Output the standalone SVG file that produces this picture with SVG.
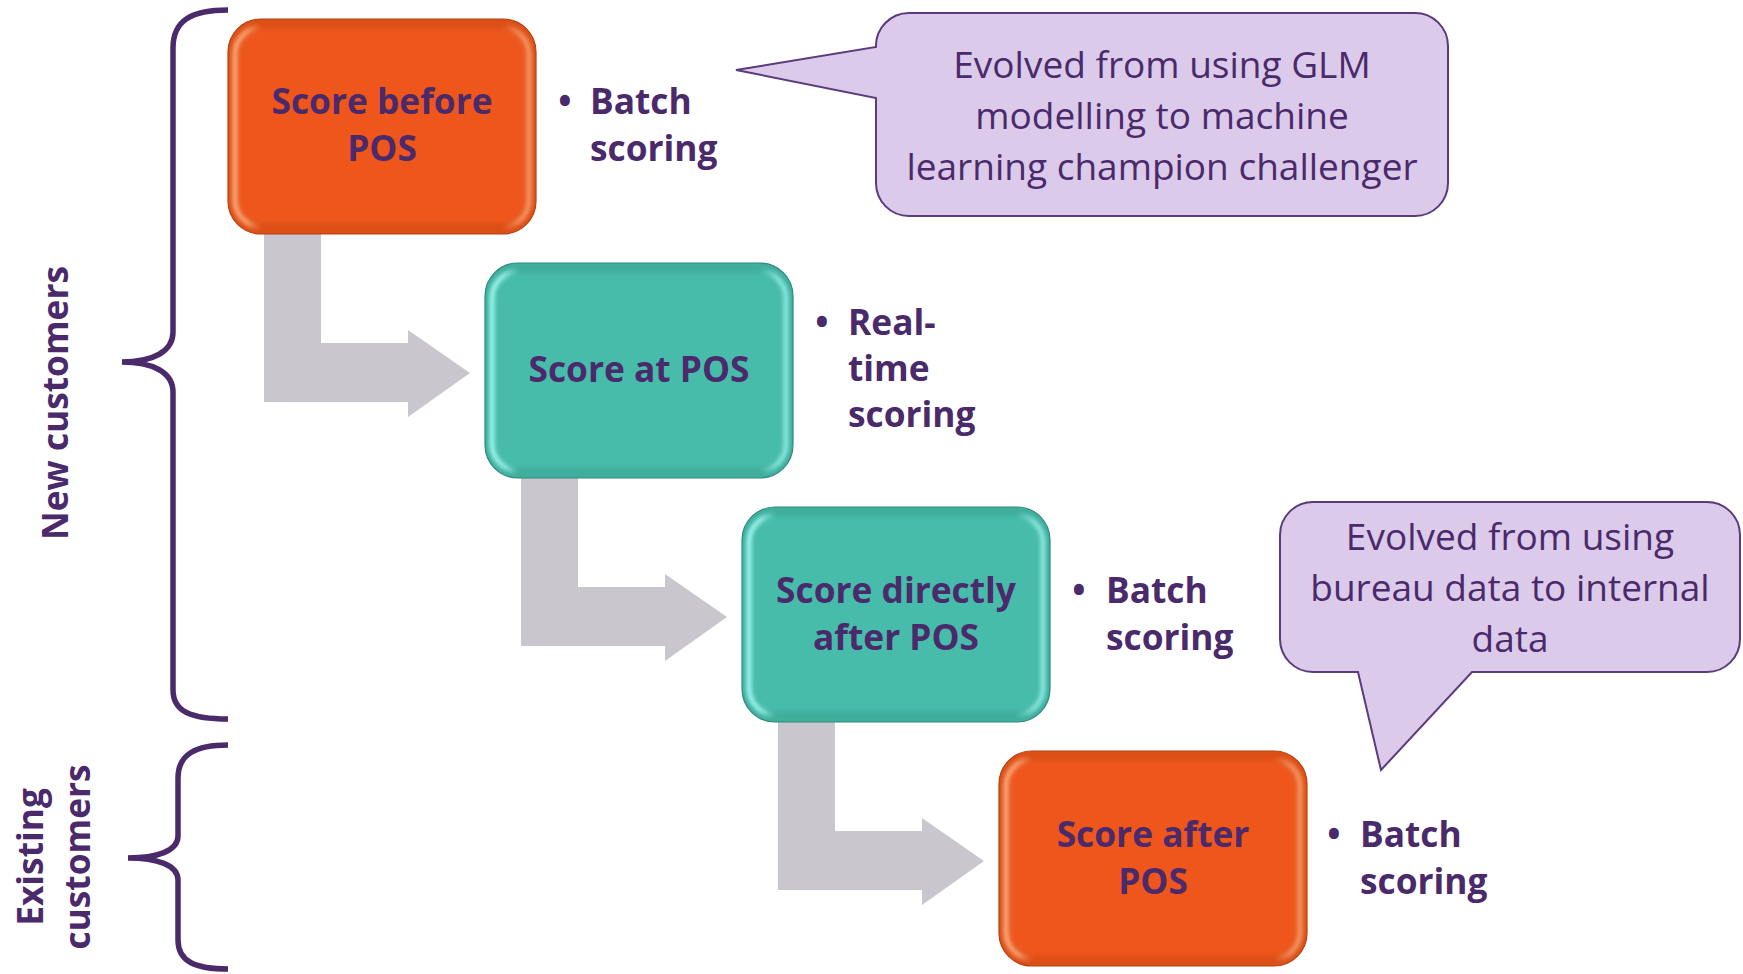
<svg xmlns="http://www.w3.org/2000/svg" width="1743" height="974" viewBox="0 0 1743 974">
  <style>
    .lbl { font-family: "Open Sans", "Liberation Sans", sans-serif; font-weight: 700; font-size: 35.3px; fill: #4A2A6A; }
    .mid { text-anchor: middle; }
    .note { font-family: "Open Sans", "Liberation Sans", sans-serif; font-weight: 400; font-size: 37px; fill: #4A2A6A; text-anchor: middle; }
    .brace { fill: none; stroke: #4A2A6A; stroke-width: 5.5; stroke-linecap: butt; }
    .arrow { fill: #C9C7CD; }
    .callout { fill: #DCCAEA; stroke: #5A3B7C; stroke-width: 2; }
    .edge-o { fill: #DC4F16; stroke: #B5410F; stroke-width: 1.2; }
    .ring-o { fill: none; stroke: url(#hl-o); stroke-width: 5; }
    .face-o { fill: #EE561C; }
    .edge-t { fill: #3FAE9D; stroke: #2E8A7D; stroke-width: 1.2; }
    .ring-t { fill: none; stroke: url(#hl-t); stroke-width: 5; }
    .face-t { fill: #47BCAB; }
  </style>
  <defs>
    <filter id="soft" x="-5%" y="-5%" width="110%" height="110%">
      <feGaussianBlur stdDeviation="2"/>
    </filter>
    <filter id="soft2" x="-5%" y="-5%" width="110%" height="110%">
      <feGaussianBlur stdDeviation="2.2"/>
    </filter>
    <!-- side highlights of the bevel: strong left, softer right -->
    <linearGradient id="hl-o" x1="0" y1="0" x2="1" y2="0">
      <stop offset="0" stop-color="#FFB083" stop-opacity="1"/>
      <stop offset="0.04" stop-color="#FFB083" stop-opacity="0.9"/>
      <stop offset="0.09" stop-color="#FFB083" stop-opacity="0"/>
      <stop offset="0.91" stop-color="#FFB083" stop-opacity="0"/>
      <stop offset="0.97" stop-color="#FFB083" stop-opacity="0.75"/>
      <stop offset="1" stop-color="#FFB083" stop-opacity="0.8"/>
    </linearGradient>
    <linearGradient id="hl-t" x1="0" y1="0" x2="1" y2="0">
      <stop offset="0" stop-color="#A6FFF7" stop-opacity="1"/>
      <stop offset="0.04" stop-color="#A6FFF7" stop-opacity="0.9"/>
      <stop offset="0.09" stop-color="#A6FFF7" stop-opacity="0"/>
      <stop offset="0.91" stop-color="#A6FFF7" stop-opacity="0"/>
      <stop offset="0.97" stop-color="#A6FFF7" stop-opacity="0.75"/>
      <stop offset="1" stop-color="#A6FFF7" stop-opacity="0.8"/>
    </linearGradient>
    <!-- beveled rounded box, 308 x 215 -->
    <g id="box-o">
      <rect class="edge-o" x="0" y="0" width="308" height="215" rx="33"/>
      <rect class="face-o" x="10" y="10" width="288" height="194" rx="24" filter="url(#soft2)"/>
      <rect class="ring-o" x="7" y="8" width="294" height="200" rx="27" filter="url(#soft)"/>
    </g>
    <g id="box-t">
      <rect class="edge-t" x="0" y="0" width="308" height="215" rx="33"/>
      <rect class="face-t" x="10" y="10" width="288" height="194" rx="24" filter="url(#soft2)"/>
      <rect class="ring-t" x="7" y="8" width="294" height="200" rx="27" filter="url(#soft)"/>
    </g>
    <path id="bent-arrow" d="M264,225 H321 V343 H408 V330 L470,373 L408,417 V402 H264 Z"/>
  </defs>

  <!-- group braces and their labels -->
  <g id="group-new">
    <path class="brace" d="M228,10 C192,10 173,20 173,48 L173,332 C173,352 152,362 122,362 C152,362 173,372 173,392 L173,690 C173,712 192,719 228,719"/>
    <text class="lbl mid" transform="translate(68,403) rotate(-90)">New customers</text>
  </g>
  <g id="group-existing">
    <path class="brace" d="M228,745 C196,745 178,754 178,778 L178,836 C178,851 157,858 128,858 C157,858 178,865 178,880 L178,940 C178,962 196,969 228,969"/>
    <text class="lbl mid" transform="translate(43,857) rotate(-90)">Existing</text>
    <text class="lbl mid" transform="translate(90,857) rotate(-90)">customers</text>
  </g>

  <!-- connectors -->
  <g id="connectors">
    <use href="#bent-arrow" class="arrow"/>
    <use href="#bent-arrow" class="arrow" transform="translate(257,244)"/>
    <use href="#bent-arrow" class="arrow" transform="translate(514,488)"/>
  </g>

  <!-- stage nodes -->
  <g id="node-before">
    <use href="#box-o" x="228" y="19"/>
    <text class="lbl mid" x="382" y="114">Score before</text>
    <text class="lbl mid" x="382" y="161">POS</text>
    <text class="lbl mid" x="565" y="114">•</text>
    <text class="lbl" x="590" y="114">Batch</text>
    <text class="lbl" x="590" y="161">scoring</text>
  </g>
  <g id="node-at">
    <use href="#box-t" x="485" y="263"/>
    <text class="lbl mid" x="639" y="382">Score at POS</text>
    <text class="lbl mid" x="822" y="335">•</text>
    <text class="lbl" x="848" y="335">Real-</text>
    <text class="lbl" x="848" y="381">time</text>
    <text class="lbl" x="848" y="427">scoring</text>
  </g>
  <g id="node-directly-after">
    <use href="#box-t" x="742" y="507"/>
    <text class="lbl mid" x="896" y="603">Score directly</text>
    <text class="lbl mid" x="896" y="650">after POS</text>
    <text class="lbl mid" x="1079" y="603">•</text>
    <text class="lbl" x="1106" y="603">Batch</text>
    <text class="lbl" x="1106" y="650">scoring</text>
  </g>
  <g id="node-after">
    <use href="#box-o" x="999" y="751"/>
    <text class="lbl mid" x="1153" y="847">Score after</text>
    <text class="lbl mid" x="1153" y="894">POS</text>
    <text class="lbl mid" x="1334" y="847">•</text>
    <text class="lbl" x="1360" y="847">Batch</text>
    <text class="lbl" x="1360" y="894">scoring</text>
  </g>

  <!-- callouts -->
  <g id="note-glm">
    <path class="callout" d="M909,13 H1415 A33,33 0 0 1 1448,46 V183 A33,33 0 0 1 1415,216 H909 A33,33 0 0 1 876,183 V98 L736,70 L876,47 A33,33 0 0 1 909,13 Z"/>
    <text class="note" x="1162" y="78">Evolved from using GLM</text>
    <text class="note" x="1162" y="129">modelling to machine</text>
    <text class="note" x="1162" y="180">learning champion challenger</text>
  </g>
  <g id="note-bureau">
    <path class="callout" d="M1313,502 H1707 A33,33 0 0 1 1740,535 V639 A33,33 0 0 1 1707,672 H1472 L1381,770 L1358,672 H1313 A33,33 0 0 1 1280,639 V535 A33,33 0 0 1 1313,502 Z"/>
    <text class="note" x="1510" y="550">Evolved from using</text>
    <text class="note" x="1510" y="601">bureau data to internal</text>
    <text class="note" x="1510" y="652">data</text>
  </g>
</svg>
